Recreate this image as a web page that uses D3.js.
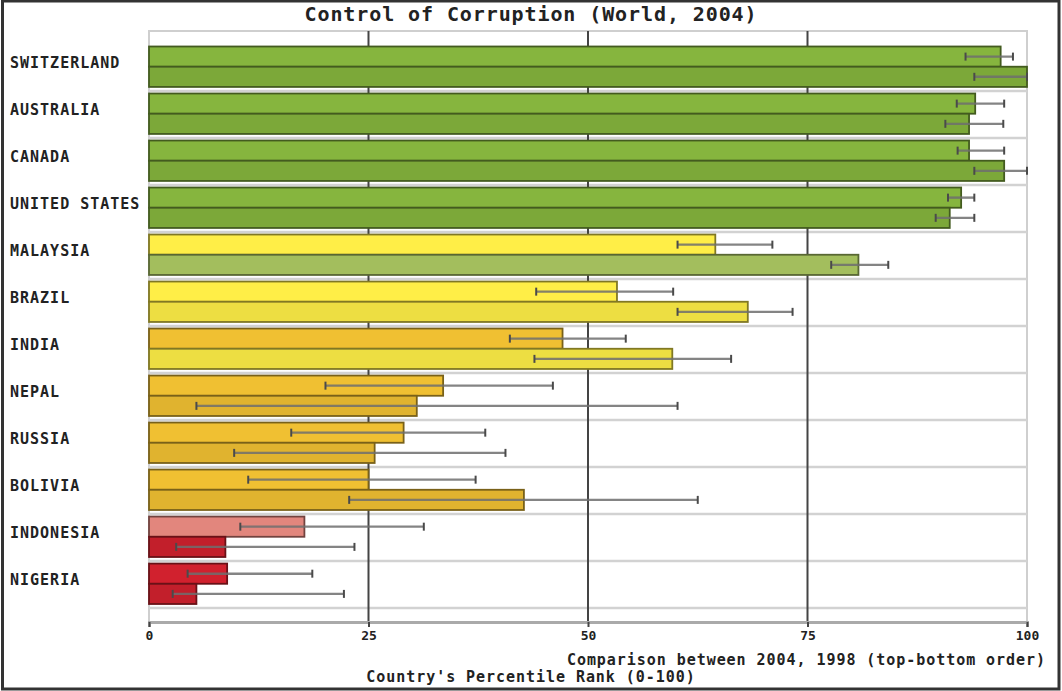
<!DOCTYPE html>
<html>
<head>
<meta charset="utf-8">
<script src="https://cdn.jsdelivr.net/npm/d3@7/dist/d3.min.js"></script>
<style>
  body { margin: 0; background: #fff; }
  text { font-family: "DejaVu Sans Mono", monospace; font-weight: bold; fill: #222; }
</style>
</head>
<body>
<svg id="chart" width="1062" height="691"></svg>
<script>
// values (percentile rank, 2004 on top, 1998 below)
var countries = ["SWITZERLAND", "AUSTRALIA", "CANADA", "UNITED STATES", "MALAYSIA", "BRAZIL",
  "INDIA", "NEPAL", "RUSSIA", "BOLIVIA", "INDONESIA", "NIGERIA"];
var years = ["2004", "1998"];
var rank2004 = [97.0, 94.1, 93.4, 92.5, 64.5, 53.3, 47.1, 33.5, 29.0, 25.0, 17.7, 8.9];
var low2004 = [93.0, 92.0, 92.1, 91.0, 60.2, 44.1, 41.1, 20.1, 16.2, 11.3, 10.4, 4.4];
var high2004 = [98.4, 97.4, 97.4, 94.0, 71.0, 59.7, 54.3, 46.0, 38.3, 37.2, 31.3, 18.6];
var rank1998 = [100, 93.4, 97.4, 91.2, 80.8, 68.2, 59.6, 30.5, 25.7, 42.7, 8.7, 5.4];
var low1998 = [94.0, 90.7, 94.0, 89.6, 77.7, 60.2, 43.9, 5.4, 9.7, 22.8, 3.1, 2.7];
var high1998 = [100, 97.3, 100, 94.0, 84.2, 73.3, 66.3, 60.2, 40.6, 62.5, 23.4, 22.2];
var xTicks = [0, 25, 50, 75, 100];
var colorBreaks = [10, 25, 50, 75, 90];
var colorBins = ["#c8202c", "#d98078", "#e6b830", "#f4e444", "#a8c460", "#80ad3b"];

var rows = [];
countries.forEach(function (c, i) {
  rows.push({ country: c, year: "2004", value: rank2004[i], lo: low2004[i], hi: high2004[i] });
  rows.push({ country: c, year: "1998", value: rank1998[i], lo: low1998[i], hi: high1998[i] });
});

var svg = d3.select("#chart"),
  width = +svg.attr("width"),
  height = +svg.attr("height");

var plotTop = 31, plotBottom = 622;

var x = d3.scaleLinear().domain([0, 100]).range([149, 1027]);
var y = d3.scaleBand().domain(countries).range([46.5, 604]).paddingInner(0.14);
var yIn = d3.scaleBand().domain(years).range([0, y.bandwidth()]);
var color = d3.scaleThreshold().domain(colorBreaks).range(colorBins);

function fill(d) {
  var c = d3.color(color(d.value));
  return d.year === "2004" ? c.brighter(0.12) : c.darker(0.08);
}

// outer frame
svg.append("rect")
  .attr("x", 2.5).attr("y", 1).attr("width", width - 5.5).attr("height", height - 3)
  .attr("fill", "none").attr("stroke", "#333").attr("stroke-width", 3);

// title
svg.append("text")
  .attr("x", 531).attr("y", 21)
  .attr("text-anchor", "middle")
  .style("font-size", "20px").style("letter-spacing", "0.9px")
  .text("Control of Corruption (World, 2004)");

// plot frame
svg.append("path")
  .attr("d", "M" + x(0) + "," + plotBottom + "V" + plotTop + "H" + x(100) + "V" + plotBottom)
  .attr("fill", "none").attr("stroke", "#cfcfcf").attr("stroke-width", 2);

// light separators between countries
svg.append("g").selectAll("line")
  .data(countries)
  .enter().append("line")
  .attr("x1", x(0)).attr("x2", x(100))
  .attr("y1", function (d) { return y(d) + y.bandwidth() + 4; })
  .attr("y2", function (d) { return y(d) + y.bandwidth() + 4; })
  .attr("stroke", "#d2d2d2").attr("stroke-width", 2.5);

// grid lines
svg.append("g").selectAll("line")
  .data([25, 50, 75])
  .enter().append("line")
  .attr("x1", function (d) { return x(d); }).attr("x2", function (d) { return x(d); })
  .attr("y1", plotTop).attr("y2", plotBottom)
  .attr("stroke", "#444").attr("stroke-width", 2);

// bars
var bar = svg.append("g").selectAll("g")
  .data(rows)
  .enter().append("g")
  .attr("transform", function (d) { return "translate(0," + (y(d.country) + yIn(d.year)) + ")"; });

bar.append("rect")
  .attr("x", x(0))
  .attr("y", 0)
  .attr("width", function (d) { return x(d.value) - x(0); })
  .attr("height", yIn.bandwidth())
  .attr("fill", fill)
  .attr("stroke", function (d) { return d3.color(color(d.value)).darker(1.8); })
  .attr("stroke-width", 1.8);

// error bars
var mid = yIn.bandwidth() / 2;
bar.append("line")
  .attr("x1", function (d) { return x(d.lo); })
  .attr("x2", function (d) { return x(d.hi); })
  .attr("y1", mid).attr("y2", mid)
  .attr("stroke", "#6e6e6e").attr("stroke-opacity", 0.85).attr("stroke-width", 2.4);

bar.selectAll(".cap")
  .data(function (d) { return [d.lo, d.hi]; })
  .enter().append("line")
  .attr("class", "cap")
  .attr("x1", function (v) { return x(v); }).attr("x2", function (v) { return x(v); })
  .attr("y1", mid - 4).attr("y2", mid + 4)
  .attr("stroke", "#4a4a4a").attr("stroke-width", 2);

// country labels
svg.append("g").selectAll("text")
  .data(countries)
  .enter().append("text")
  .attr("x", 10)
  .attr("y", function (d) { return y(d) + y.bandwidth() / 2 - 4; })
  .attr("dy", "0.35em")
  .style("font-size", "15px").style("letter-spacing", "1px")
  .text(function (d) { return d; });

// x axis
var axis = svg.append("g")
  .attr("transform", "translate(0," + plotBottom + ")")
  .call(d3.axisBottom(x).tickValues(xTicks).tickSize(5).tickPadding(4));
axis.select(".domain").attr("stroke", "#aaa").attr("stroke-width", 3);
axis.selectAll(".tick line").attr("stroke", "#444").attr("stroke-width", 2);
axis.selectAll(".tick text")
  .style("font-family", "DejaVu Sans Mono, monospace")
  .style("font-weight", "bold")
  .style("font-size", "13px")
  .attr("fill", "#222");

svg.append("text")
  .attr("x", 1046).attr("y", 665)
  .attr("text-anchor", "end")
  .style("font-size", "15px").style("letter-spacing", "0.95px")
  .text("Comparison between 2004, 1998 (top-bottom order)");

svg.append("text")
  .attr("x", 531).attr("y", 682)
  .attr("text-anchor", "middle")
  .style("font-size", "15px").style("letter-spacing", "0.95px")
  .text("Country's Percentile Rank (0-100)");
</script>
</body>
</html>
